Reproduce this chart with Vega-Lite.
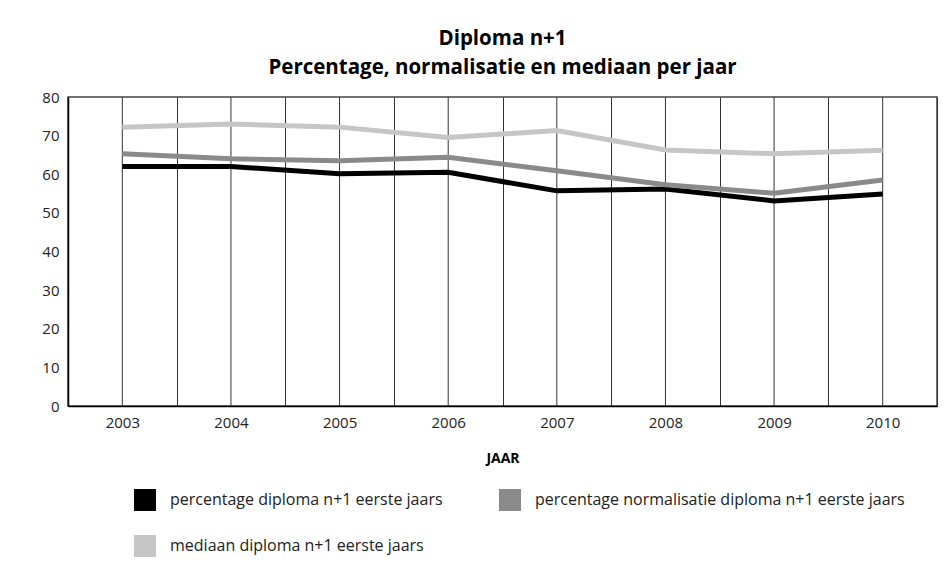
{
  "$schema": "https://vega.github.io/schema/vega-lite/v6.json",
  "width": 869,
  "height": 309,
  "autosize": {"type": "none"},
  "padding": {"left": 68, "top": 97, "right": 11, "bottom": 164},
  "background": "white",
  "config": {
    "font": "Open Sans",
    "view": {"stroke": "#444", "strokeWidth": 1.5},
    "axis": {"labelFont": "Open Sans", "labelFontSize": 15, "labelColor": "#222", "titleFont": "Open Sans"}
  },
  "title": {
    "text": ["Diploma n+1", "Percentage, normalisatie en mediaan per jaar"],
    "font": "Open Sans",
    "fontSize": 20.5,
    "fontWeight": "bold",
    "lineHeight": 29,
    "color": "#000",
    "anchor": "middle",
    "offset": 12
  },
  "datasets": {
    "years": [
      {"jaar": "2003"}, {"jaar": "2004"}, {"jaar": "2005"}, {"jaar": "2006"},
      {"jaar": "2007"}, {"jaar": "2008"}, {"jaar": "2009"}, {"jaar": "2010"}
    ],
    "series": [
      {"jaar": "2003", "reeks": "percentage diploma n+1 eerste jaars", "waarde": 62.0},
      {"jaar": "2004", "reeks": "percentage diploma n+1 eerste jaars", "waarde": 62.0},
      {"jaar": "2005", "reeks": "percentage diploma n+1 eerste jaars", "waarde": 60.1},
      {"jaar": "2006", "reeks": "percentage diploma n+1 eerste jaars", "waarde": 60.5},
      {"jaar": "2007", "reeks": "percentage diploma n+1 eerste jaars", "waarde": 55.7},
      {"jaar": "2008", "reeks": "percentage diploma n+1 eerste jaars", "waarde": 56.2},
      {"jaar": "2009", "reeks": "percentage diploma n+1 eerste jaars", "waarde": 53.1},
      {"jaar": "2010", "reeks": "percentage diploma n+1 eerste jaars", "waarde": 54.9},
      {"jaar": "2003", "reeks": "percentage normalisatie diploma n+1 eerste jaars", "waarde": 65.3},
      {"jaar": "2004", "reeks": "percentage normalisatie diploma n+1 eerste jaars", "waarde": 64.0},
      {"jaar": "2005", "reeks": "percentage normalisatie diploma n+1 eerste jaars", "waarde": 63.5},
      {"jaar": "2006", "reeks": "percentage normalisatie diploma n+1 eerste jaars", "waarde": 64.4},
      {"jaar": "2007", "reeks": "percentage normalisatie diploma n+1 eerste jaars", "waarde": 60.9},
      {"jaar": "2008", "reeks": "percentage normalisatie diploma n+1 eerste jaars", "waarde": 57.3},
      {"jaar": "2009", "reeks": "percentage normalisatie diploma n+1 eerste jaars", "waarde": 55.1},
      {"jaar": "2010", "reeks": "percentage normalisatie diploma n+1 eerste jaars", "waarde": 58.5},
      {"jaar": "2003", "reeks": "mediaan diploma n+1 eerste jaars", "waarde": 72.2},
      {"jaar": "2004", "reeks": "mediaan diploma n+1 eerste jaars", "waarde": 73.0},
      {"jaar": "2005", "reeks": "mediaan diploma n+1 eerste jaars", "waarde": 72.2},
      {"jaar": "2006", "reeks": "mediaan diploma n+1 eerste jaars", "waarde": 69.5},
      {"jaar": "2007", "reeks": "mediaan diploma n+1 eerste jaars", "waarde": 71.3},
      {"jaar": "2008", "reeks": "mediaan diploma n+1 eerste jaars", "waarde": 66.3},
      {"jaar": "2009", "reeks": "mediaan diploma n+1 eerste jaars", "waarde": 65.3},
      {"jaar": "2010", "reeks": "mediaan diploma n+1 eerste jaars", "waarde": 66.2}
    ]
  },
  "layer": [
    {
      "data": {"name": "years"},
      "mark": {"type": "rule", "color": "#333", "strokeWidth": 1},
      "encoding": {
        "x": {
          "field": "jaar",
          "type": "ordinal",
          "scale": {"type": "band", "paddingInner": 0, "paddingOuter": 0},
          "axis": {
            "title": "JAAR",
            "titleFontSize": 14,
            "titleFontWeight": "bold",
            "titleColor": "#000",
            "titlePadding": 21,
            "labelAngle": 0,
            "labelPadding": 9,
            "ticks": false,
            "grid": true,
            "tickBand": "extent",
            "gridColor": "#333",
            "gridWidth": 1,
            "gridOpacity": 1,
            "domainColor": "#000",
            "domainWidth": 1.5
          }
        }
      }
    },
    {
      "data": {"name": "series"},
      "mark": {"type": "line", "strokeWidth": 5, "strokeJoin": "miter"},
      "encoding": {
        "x": {"field": "jaar", "type": "ordinal"},
        "y": {
          "field": "waarde",
          "type": "quantitative",
          "scale": {"domain": [0, 80], "nice": false},
          "axis": {
            "title": null,
            "values": [0, 10, 20, 30, 40, 50, 60, 70, 80],
            "grid": false,
            "ticks": false,
            "labelPadding": 9,
            "domainColor": "#000",
            "domainWidth": 1.5
          }
        },
        "color": {
          "field": "reeks",
          "type": "nominal",
          "scale": {
            "domain": ["percentage diploma n+1 eerste jaars", "percentage normalisatie diploma n+1 eerste jaars", "mediaan diploma n+1 eerste jaars"],
            "range": ["#000000", "#8a8a8a", "#c6c6c6"]
          },
          "legend": {
            "title": null,
            "orient": "none",
            "legendX": 66,
            "legendY": 392,
            "direction": "horizontal",
            "columns": 2,
            "columnPadding": 56,
            "rowPadding": 24,
            "symbolType": "square",
            "symbolSize": 484,
            "symbolStrokeWidth": 0,
            "labelFont": "Open Sans",
            "labelFontSize": 16,
            "labelColor": "#222",
            "labelOffset": 14,
            "labelLimit": 500,
            "encode": {
              "symbols": {
                "update": {
                  "fill": {"scale": "color", "field": "value"},
                  "fillOpacity": {"value": 1},
                  "strokeWidth": {"value": 0}
                }
              }
            }
          }
        }
      }
    }
  ]
}
